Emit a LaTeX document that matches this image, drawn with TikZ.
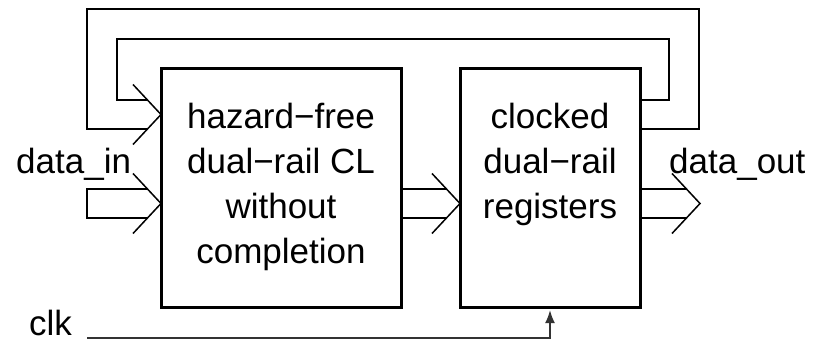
\documentclass[tikz,border=0pt]{standalone}
\usepackage{fontspec}
\setmainfont{Liberation Sans}
\usetikzlibrary{arrows.meta,calc}
\begin{document}
\begin{tikzpicture}[x=1pt,y=-1pt,
  block/.style={draw, line width=3pt, minimum width=#1, minimum height=238pt, inner sep=0pt},
  wire/.style={line width=1.5pt},
  clkwire/.style={line width=1.9pt, draw=black!80},
  lbl/.style={font=\fontsize{35}{45}\selectfont, align=center, inner sep=0pt},
  buschev/.pic={\draw[wire] (-28,-30) -- (0,0) -- (-28,30);}
  ]
\useasboundingbox (0,0) rectangle (814,342);

% the two blocks (multi-line labels are placed by the baseline of their last line)
\node[block=240pt] (cl)  at (281,188) {};
\node[block=180pt] (reg) at (550,188) {};
\node[lbl, anchor=base] (cltext)  at (281,263) {hazard−free\\dual−rail CL\\without\\completion};
\node[lbl, anchor=base] (regtext) at (550,218) {clocked\\dual−rail\\registers};

% tips of the bus arrows
\coordinate (fbtip)  at (161,114.5);
\coordinate (dintip) at (161,203.5);
\coordinate (midtip) at (460,203.5);
\coordinate (outtip) at (700,203.5);

% feedback from the registers back to the logic
\draw[wire] (reg.east |- 0,100) -- (669,100) -- (669,39) -- (117,39) -- (117,100)
            -- ($(fbtip)+(-14,-14.5)$);
\draw[wire] (reg.east |- 0,129) -- (699,129) -- (699,9) -- (87,9) -- (87,129)
            -- ($(fbtip)+(-14,14.5)$);
\pic at (fbtip) {buschev};

% data_in bus
\draw[wire] ($(dintip)+(-14,-14.5)$) -- (87,189) -- (87,218) -- ($(dintip)+(-14,14.5)$);
\pic at (dintip) {buschev};
\node[lbl, anchor=base west] (din) at (16,173) {data\_in};

% logic to registers bus
\draw[wire] (cl.east |- 0,189) -- ($(midtip)+(-14,-14.5)$);
\draw[wire] (cl.east |- 0,218) -- ($(midtip)+(-14,14.5)$);
\pic at (midtip) {buschev};

% data_out bus
\draw[wire] (reg.east |- 0,189) -- ($(outtip)+(-14,-14.5)$);
\draw[wire] (reg.east |- 0,218) -- ($(outtip)+(-14,14.5)$);
\pic at (outtip) {buschev};
\node[lbl, anchor=base west] (dout) at (669,174) {data\_out};

% clock
\node[lbl, anchor=base west] (clk) at (29,335) {clk};
\coordinate (clkstart) at (87,338);
\draw[clkwire, -{Latex[length=13pt,width=10pt]}] (clkstart) -- (reg.south |- clkstart) -- ([yshift=-1.5pt]reg.south);
\end{tikzpicture}
\end{document}
